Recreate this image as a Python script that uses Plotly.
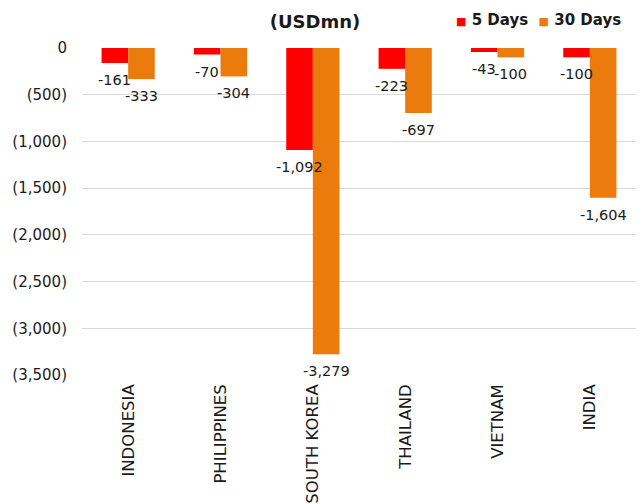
import plotly.graph_objects as go

categories = ["INDONESIA", "PHILIPPINES", "SOUTH KOREA", "THAILAND", "VIETNAM", "INDIA"]
days5 = [-161, -70, -1092, -223, -43, -100]
days30 = [-333, -304, -3279, -697, -100, -1604]
series_names = ["5 Days", "30 Days"]
series_colors = ["#FF0000", "#EA7B0C"]
y_tickvals = [0, -500, -1000, -1500, -2000, -2500, -3000, -3500]
y_ticktext = ["0", "(500)", "(1,000)", "(1,500)", "(2,000)", "(2,500)", "(3,000)", "(3,500)"]

FONT = "DejaVu Sans"
TXT = "#1a1a1a"

def fmt(v):
    return f"{v:,}"

fig = go.Figure()
series = [days5, days30]
for name, color, vals in zip(series_names, series_colors, series):
    fig.add_trace(go.Bar(
        x=categories, y=vals, name=name, showlegend=False,
        marker=dict(color=color, line=dict(width=0)), hoverinfo="x+y+name",
    ))

# data labels drawn on top of all bars
bar_offsets = [-13.25, 13.25]
for off, vals in zip(bar_offsets, series):
    for c, v in zip(categories, vals):
        fig.add_annotation(x=c, y=v, xref="x", yref="y", text=fmt(v), showarrow=False,
                           xshift=off, yanchor="top", yshift=-7, xanchor="center",
                           font=dict(family=FONT, size=14.5, color=TXT))

# legend built from series names and colours
legend_parts = []
for name, color in zip(series_names, series_colors):
    legend_parts.append(f"<span style='color:{color};font-size:11px'>■</span> {name}")
legend_text = "<b>" + "  ".join(legend_parts) + "</b>"
fig.add_annotation(x=(623 - 82) / 554, y=(375 - 20) / 327, xref="paper", yref="paper",
                   text=legend_text, showarrow=False, xanchor="right", yanchor="middle",
                   font=dict(family=FONT, size=15, color=TXT))

n = len(categories)
boundaries = [i - 0.5 for i in range(n + 1)]

fig.update_layout(
    width=643, height=504,
    margin=dict(l=82, r=7, t=48, b=129, pad=0, autoexpand=False),
    paper_bgcolor="white", plot_bgcolor="white",
    barmode="group", bargap=0.424, bargroupgap=0,
    font=dict(family=FONT, color=TXT),
    showlegend=False,
    title=dict(text="<b>(USDmn)</b>", x=315 / 643, xanchor="center", y=1 - 22 / 504, yanchor="middle",
               xref="container", yref="container",
               font=dict(family=FONT, size=18, color=TXT)),
    xaxis=dict(type="category", categoryorder="array", categoryarray=categories,
               range=[-0.5, n - 0.5], tickangle=-90, showgrid=False, showline=False,
               ticks="", ticklabelstandoff=5, zeroline=False, automargin=False,
               tickfont=dict(family=FONT, size=16.5, color=TXT)),
    xaxis2=dict(overlaying="x", side="top", range=[-0.5, n - 0.5], tickmode="array",
                tickvals=boundaries, showticklabels=False, ticks="inside", ticklen=5,
                tickcolor="#A6A6A6", showline=True, linecolor="#A6A6A6", linewidth=1,
                showgrid=False, zeroline=False, automargin=False),
    yaxis=dict(range=[-3500, 0], tickmode="array", tickvals=y_tickvals, ticktext=y_ticktext,
               showgrid=True, gridcolor="#D9D9D9", gridwidth=1, zeroline=False, showline=False,
               ticks="", ticklabelstandoff=14, automargin=False,
               tickfont=dict(family=FONT, size=15, color=TXT)),
)

fig.write_html("out.html")
